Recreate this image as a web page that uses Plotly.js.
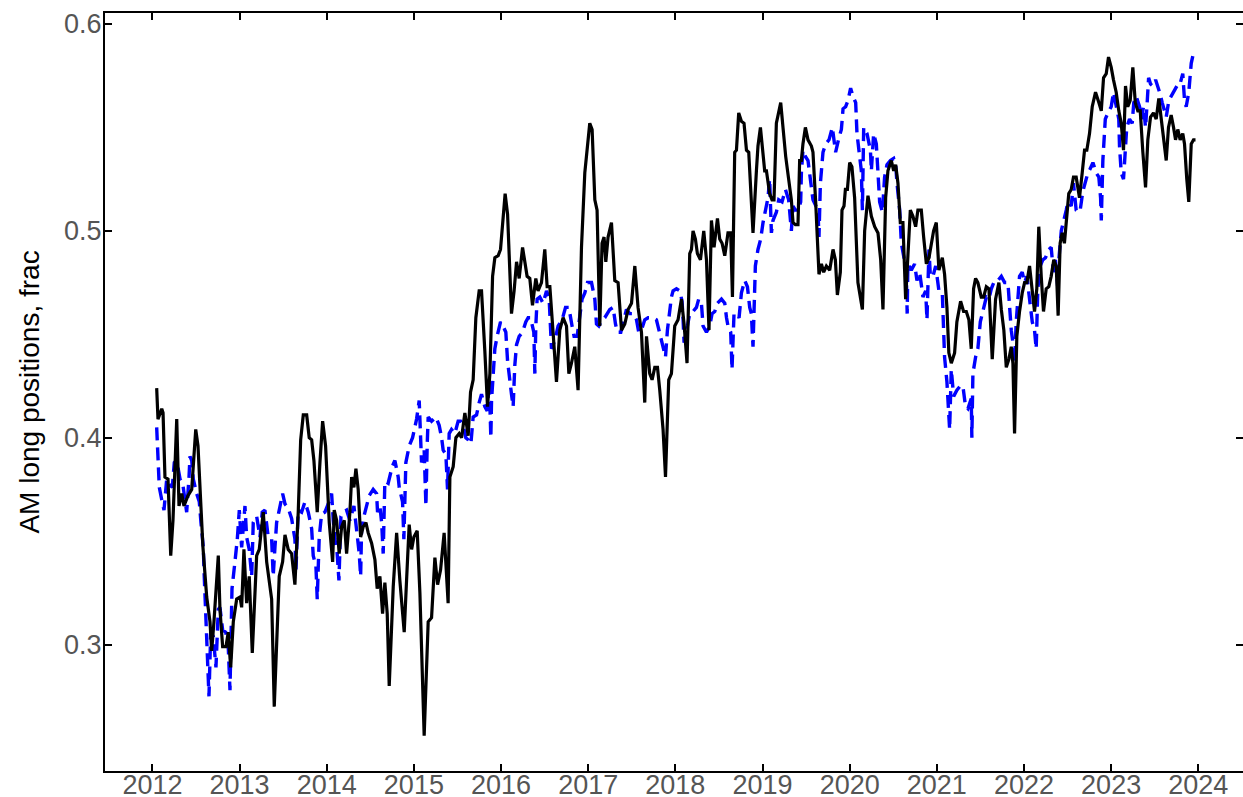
<!DOCTYPE html>
<html>
<head>
<meta charset="utf-8">
<script src="https://cdn.plot.ly/plotly-3.0.1.min.js"></script>
<style>html,body{margin:0;padding:0;background:#fff;}#chart{width:1243px;height:797px;}</style>
</head>
<body>
<div id="chart"></div>
<script>
// ---- Data (decimal years, fraction of AM long positions) ----
const yearTicks = [2012,2013,2014,2015,2016,2017,2018,2019,2020,2021,2022,2023,2024];
const yearLabels = ["2012","2013","2014","2015","2016","2017","2018","2019","2020","2021","2022","2023","2024"];
const yTickVals = [0.3,0.4,0.5,0.6];
const yTickLabels = ["0.3","0.4","0.5","0.6"];

const actualT = [
2012.049,2012.064,2012.107,2012.122,2012.144,2012.179,2012.210,2012.236,2012.279,2012.305,
2012.336,2012.362,2012.408,2012.451,2012.497,2012.523,2012.554,2012.580,2012.623,2012.661,
2012.680,2012.706,2012.756,2012.775,2012.806,2012.844,2012.870,2012.898,2012.928,2012.967,
2013.005,2013.024,2013.050,2013.081,2013.111,2013.146,2013.196,2013.226,2013.272,2013.311,
2013.368,2013.398,2013.455,2013.494,2013.521,2013.558,2013.597,2013.635,2013.673,2013.701,
2013.731,2013.770,2013.799,2013.827,2013.853,2013.891,2013.922,2013.953,2013.987,2014.029,
2014.068,2014.086,2014.114,2014.143,2014.171,2014.201,2014.228,2014.266,2014.286,2014.312,
2014.335,2014.361,2014.389,2014.419,2014.450,2014.476,2014.515,2014.553,2014.579,2014.610,
2014.641,2014.667,2014.694,2014.717,2014.763,2014.802,2014.839,2014.889,2014.916,2014.946,
2014.974,2015.000,2015.038,2015.069,2015.118,2015.164,2015.203,2015.241,2015.272,2015.306,
2015.347,2015.393,2015.413,2015.451,2015.482,2015.520,2015.547,2015.585,2015.623,2015.650,
2015.680,2015.711,2015.749,2015.776,2015.814,2015.845,2015.872,2015.903,2015.929,2015.967,
2015.994,2016.024,2016.047,2016.075,2016.101,2016.120,2016.150,2016.178,2016.208,2016.247,
2016.273,2016.299,2016.330,2016.361,2016.399,2016.425,2016.464,2016.502,2016.529,2016.560,
2016.597,2016.636,2016.674,2016.712,2016.751,2016.778,2016.808,2016.846,2016.884,2016.923,
2016.961,2016.992,2017.018,2017.045,2017.076,2017.102,2017.133,2017.159,2017.182,2017.202,
2017.228,2017.267,2017.305,2017.343,2017.382,2017.420,2017.458,2017.497,2017.535,2017.572,
2017.611,2017.649,2017.669,2017.706,2017.733,2017.764,2017.795,2017.821,2017.859,2017.887,
2017.924,2017.955,2017.993,2018.031,2018.070,2018.100,2018.134,2018.165,2018.185,2018.203,
2018.230,2018.253,2018.288,2018.326,2018.357,2018.386,2018.414,2018.444,2018.483,2018.509,
2018.536,2018.567,2018.604,2018.635,2018.655,2018.681,2018.701,2018.727,2018.758,2018.788,
2018.816,2018.842,2018.873,2018.891,2018.930,2018.948,2018.976,2018.994,2019.025,2019.045,
2019.082,2019.109,2019.132,2019.159,2019.186,2019.209,2019.235,2019.266,2019.300,2019.331,
2019.350,2019.377,2019.407,2019.426,2019.446,2019.464,2019.492,2019.522,2019.561,2019.579,
2019.610,2019.636,2019.648,2019.676,2019.702,2019.733,2019.771,2019.809,2019.836,2019.859,
2019.893,2019.912,2019.935,2019.951,2019.974,2020.000,2020.026,2020.057,2020.095,2020.146,
2020.172,2020.210,2020.249,2020.287,2020.325,2020.356,2020.382,2020.413,2020.439,2020.478,
2020.505,2020.528,2020.554,2020.581,2020.611,2020.642,2020.668,2020.696,2020.726,2020.757,
2020.783,2020.822,2020.849,2020.880,2020.910,2020.937,2020.963,2020.994,2021.024,2021.063,
2021.089,2021.116,2021.138,2021.166,2021.204,2021.230,2021.273,2021.307,2021.338,2021.368,
2021.395,2021.422,2021.445,2021.471,2021.510,2021.537,2021.568,2021.598,2021.636,2021.674,
2021.712,2021.740,2021.769,2021.797,2021.827,2021.854,2021.873,2021.892,2021.918,2021.949,
2021.980,2022.007,2022.033,2022.064,2022.095,2022.121,2022.147,2022.170,2022.198,2022.224,
2022.255,2022.285,2022.312,2022.342,2022.370,2022.392,2022.415,2022.438,2022.464,2022.491,
2022.514,2022.542,2022.568,2022.599,2022.637,2022.668,2022.695,2022.721,2022.752,2022.783,
2022.821,2022.859,2022.887,2022.913,2022.944,2022.970,2023.001,2023.027,2023.058,2023.088,
2023.116,2023.142,2023.165,2023.191,2023.219,2023.249,2023.277,2023.306,2023.334,2023.364,
2023.395,2023.421,2023.452,2023.486,2023.517,2023.547,2023.574,2023.601,2023.632,2023.658,
2023.689,2023.716,2023.739,2023.765,2023.792,2023.822,2023.842,2023.868,2023.891,2023.919,
2023.945,2023.968];
const actualV = [
0.424,0.409,0.414,0.412,0.381,0.380,0.343,0.360,0.409,0.367,
0.373,0.367,0.372,0.375,0.404,0.396,0.369,0.347,0.323,0.311,
0.297,0.311,0.343,0.317,0.299,0.299,0.306,0.289,0.311,0.322,
0.323,0.318,0.346,0.320,0.333,0.296,0.343,0.346,0.364,0.340,
0.322,0.270,0.333,0.340,0.353,0.346,0.344,0.329,0.364,0.399,
0.411,0.411,0.400,0.399,0.389,0.364,0.388,0.408,0.396,0.359,
0.340,0.365,0.360,0.344,0.357,0.360,0.344,0.364,0.381,0.376,
0.385,0.375,0.352,0.357,0.359,0.354,0.349,0.341,0.327,0.333,
0.315,0.330,0.315,0.280,0.328,0.354,0.331,0.306,0.331,0.358,
0.346,0.352,0.355,0.325,0.256,0.311,0.313,0.342,0.329,0.336,
0.354,0.320,0.381,0.386,0.400,0.402,0.400,0.412,0.401,0.422,
0.428,0.458,0.471,0.471,0.442,0.415,0.431,0.478,0.487,0.488,
0.491,0.506,0.518,0.508,0.476,0.460,0.471,0.485,0.477,0.492,
0.485,0.478,0.477,0.464,0.477,0.471,0.475,0.491,0.473,0.473,
0.451,0.427,0.452,0.458,0.454,0.431,0.436,0.444,0.423,0.492,
0.528,0.542,0.552,0.549,0.515,0.510,0.454,0.494,0.497,0.485,
0.497,0.504,0.476,0.475,0.452,0.455,0.462,0.465,0.483,0.463,
0.451,0.417,0.449,0.431,0.428,0.434,0.434,0.423,0.404,0.381,
0.428,0.431,0.454,0.457,0.467,0.455,0.436,0.489,0.491,0.500,
0.496,0.489,0.486,0.500,0.486,0.452,0.505,0.492,0.506,0.496,
0.494,0.488,0.499,0.499,0.468,0.538,0.539,0.557,0.553,0.552,
0.539,0.538,0.512,0.499,0.529,0.541,0.550,0.541,0.529,0.529,
0.518,0.515,0.515,0.552,0.557,0.562,0.550,0.536,0.525,0.515,
0.504,0.503,0.503,0.534,0.534,0.542,0.550,0.544,0.541,0.538,
0.514,0.494,0.479,0.484,0.480,0.483,0.481,0.491,0.486,0.469,
0.480,0.510,0.512,0.520,0.520,0.533,0.531,0.516,0.475,0.462,
0.500,0.517,0.507,0.502,0.499,0.486,0.462,0.516,0.529,0.534,
0.529,0.532,0.523,0.504,0.504,0.467,0.487,0.510,0.507,0.502,
0.510,0.510,0.497,0.484,0.487,0.494,0.500,0.504,0.481,0.487,
0.479,0.463,0.441,0.436,0.441,0.456,0.466,0.461,0.461,0.457,
0.443,0.472,0.477,0.475,0.468,0.468,0.473,0.472,0.438,0.467,
0.475,0.462,0.452,0.434,0.438,0.444,0.436,0.402,0.449,0.461,
0.470,0.475,0.475,0.483,0.470,0.461,0.472,0.502,0.478,0.461,
0.472,0.473,0.478,0.486,0.483,0.459,0.494,0.499,0.494,0.507,
0.518,0.520,0.526,0.526,0.516,0.528,0.539,0.539,0.547,0.560,
0.567,0.562,0.558,0.574,0.576,0.584,0.579,0.573,0.567,0.558,
0.552,0.539,0.570,0.560,0.563,0.579,0.562,0.558,0.558,0.538,
0.521,0.544,0.555,0.557,0.554,0.564,0.555,0.547,0.534,0.550,
0.556,0.550,0.544,0.549,0.544,0.547,0.542,0.525,0.514,0.542,
0.544,0.544];

const modelT = [
2012.049,2012.068,2012.079,2012.107,2012.133,2012.164,2012.202,2012.228,2012.251,2012.279,
2012.297,2012.317,2012.347,2012.374,2012.393,2012.420,2012.431,2012.451,2012.469,2012.508,
2012.538,2012.557,2012.584,2012.592,2012.607,2012.623,2012.632,2012.641,2012.649,2012.669,
2012.698,2012.729,2012.756,2012.775,2012.806,2012.841,2012.870,2012.890,2012.913,2012.947,
2012.974,2012.997,2013.024,2013.062,2013.081,2013.111,2013.139,2013.157,2013.196,2013.234,
2013.260,2013.291,2013.329,2013.368,2013.386,2013.406,2013.425,2013.455,2013.494,2013.521,
2013.558,2013.597,2013.635,2013.647,2013.673,2013.712,2013.750,2013.788,2013.827,2013.845,
2013.876,2013.891,2013.914,2013.941,2013.979,2014.017,2014.056,2014.075,2014.094,2014.120,
2014.140,2014.163,2014.189,2014.228,2014.266,2014.312,2014.343,2014.373,2014.389,2014.400,
2014.427,2014.464,2014.487,2014.533,2014.572,2014.583,2014.610,2014.630,2014.648,2014.667,
2014.705,2014.751,2014.782,2014.820,2014.832,2014.870,2014.885,2014.908,2014.946,2014.985,
2015.031,2015.061,2015.077,2015.088,2015.118,2015.126,2015.138,2015.153,2015.164,2015.203,
2015.252,2015.290,2015.318,2015.336,2015.367,2015.386,2015.405,2015.432,2015.470,2015.508,
2015.536,2015.565,2015.596,2015.623,2015.654,2015.680,2015.719,2015.749,2015.776,2015.814,
2015.841,2015.864,2015.883,2015.891,2015.909,2015.929,2015.955,2015.994,2016.024,2016.055,
2016.075,2016.101,2016.120,2016.139,2016.158,2016.178,2016.208,2016.247,2016.284,2016.311,
2016.338,2016.376,2016.388,2016.399,2016.414,2016.445,2016.483,2016.522,2016.552,2016.579,
2016.617,2016.655,2016.701,2016.740,2016.778,2016.815,2016.838,2016.873,2016.904,2016.930,
2016.961,2016.992,2017.038,2017.076,2017.095,2017.122,2017.159,2017.190,2017.248,2017.286,
2017.313,2017.336,2017.374,2017.412,2017.439,2017.477,2017.515,2017.554,2017.580,2017.611,
2017.649,2017.687,2017.744,2017.783,2017.821,2017.859,2017.887,2017.909,2017.924,2017.955,
2017.974,2018.013,2018.051,2018.077,2018.089,2018.100,2018.139,2018.165,2018.203,2018.242,
2018.268,2018.299,2018.318,2018.357,2018.395,2018.421,2018.452,2018.483,2018.529,2018.567,
2018.587,2018.604,2018.635,2018.650,2018.673,2018.701,2018.731,2018.758,2018.796,2018.827,
2018.853,2018.872,2018.891,2018.911,2018.918,2018.948,2018.979,2019.006,2019.033,2019.063,
2019.082,2019.102,2019.120,2019.159,2019.186,2019.224,2019.263,2019.300,2019.331,2019.350,
2019.377,2019.407,2019.438,2019.446,2019.464,2019.492,2019.522,2019.553,2019.579,2019.636,
2019.648,2019.664,2019.694,2019.725,2019.763,2019.801,2019.839,2019.877,2019.905,2019.924,
2019.954,2019.981,2020.011,2020.038,2020.069,2020.084,2020.107,2020.134,2020.146,2020.161,
2020.199,2020.238,2020.249,2020.275,2020.306,2020.325,2020.344,2020.375,2020.401,2020.428,
2020.467,2020.505,2020.528,2020.543,2020.574,2020.593,2020.623,2020.650,2020.660,2020.668,
2020.707,2020.745,2020.772,2020.803,2020.841,2020.872,2020.887,2020.910,2020.926,2020.956,
2020.987,2021.024,2021.063,2021.078,2021.089,2021.116,2021.138,2021.147,2021.166,2021.193,
2021.230,2021.269,2021.299,2021.330,2021.357,2021.395,2021.402,2021.414,2021.445,2021.471,
2021.499,2021.529,2021.568,2021.598,2021.625,2021.663,2021.701,2021.740,2021.778,2021.816,
2021.835,2021.854,2021.873,2021.892,2021.911,2021.930,2021.949,2021.980,2022.007,2022.033,
2022.064,2022.095,2022.121,2022.140,2022.159,2022.186,2022.216,2022.247,2022.285,2022.312,
2022.338,2022.361,2022.389,2022.400,2022.428,2022.454,2022.485,2022.503,2022.542,2022.568,
2022.599,2022.629,2022.645,2022.675,2022.706,2022.733,2022.760,2022.791,2022.829,2022.859,
2022.879,2022.887,2022.905,2022.917,2022.933,2022.963,2023.001,2023.027,2023.058,2023.088,
2023.096,2023.116,2023.142,2023.161,2023.179,2023.211,2023.242,2023.260,2023.288,2023.326,
2023.346,2023.372,2023.395,2023.415,2023.430,2023.452,2023.479,2023.510,2023.537,2023.556,
2023.586,2023.612,2023.632,2023.662,2023.689,2023.727,2023.754,2023.785,2023.822,2023.842,
2023.861,2023.891,2023.907,2023.919,2023.945,2023.956];
const modelV = [
0.405,0.389,0.376,0.370,0.365,0.380,0.377,0.376,0.388,0.389,
0.384,0.380,0.378,0.370,0.364,0.381,0.391,0.389,0.380,0.373,
0.369,0.359,0.347,0.336,0.320,0.307,0.301,0.288,0.275,0.306,
0.304,0.289,0.317,0.318,0.307,0.306,0.299,0.278,0.327,0.340,
0.351,0.365,0.347,0.367,0.352,0.346,0.333,0.359,0.362,0.352,
0.364,0.365,0.352,0.351,0.333,0.347,0.359,0.365,0.373,0.368,
0.366,0.361,0.351,0.336,0.365,0.364,0.369,0.364,0.356,0.343,
0.338,0.322,0.352,0.363,0.364,0.368,0.373,0.360,0.351,0.344,
0.331,0.362,0.364,0.365,0.360,0.367,0.356,0.344,0.333,0.356,
0.362,0.369,0.372,0.375,0.373,0.364,0.367,0.359,0.344,0.379,
0.378,0.386,0.389,0.381,0.376,0.369,0.351,0.388,0.396,0.400,
0.409,0.418,0.404,0.388,0.394,0.379,0.367,0.397,0.410,0.408,
0.410,0.406,0.400,0.394,0.392,0.375,0.402,0.404,0.402,0.408,
0.408,0.406,0.400,0.399,0.397,0.410,0.411,0.417,0.421,0.415,
0.413,0.428,0.400,0.418,0.433,0.443,0.449,0.456,0.454,0.451,
0.437,0.426,0.421,0.415,0.435,0.445,0.449,0.451,0.456,0.458,
0.458,0.451,0.431,0.454,0.467,0.468,0.465,0.471,0.467,0.443,
0.447,0.454,0.457,0.463,0.463,0.454,0.449,0.449,0.460,0.467,
0.470,0.475,0.475,0.467,0.455,0.454,0.457,0.458,0.462,0.463,
0.455,0.451,0.451,0.457,0.462,0.460,0.460,0.457,0.451,0.452,
0.457,0.458,0.458,0.457,0.451,0.444,0.439,0.452,0.457,0.468,
0.471,0.472,0.471,0.466,0.457,0.446,0.454,0.460,0.461,0.463,
0.467,0.465,0.454,0.451,0.454,0.460,0.461,0.465,0.467,0.465,
0.458,0.454,0.451,0.433,0.460,0.460,0.458,0.470,0.476,0.473,
0.463,0.460,0.444,0.468,0.483,0.491,0.496,0.504,0.510,0.516,
0.525,0.499,0.505,0.509,0.515,0.514,0.520,0.515,0.500,0.512,
0.510,0.510,0.514,0.528,0.539,0.536,0.534,0.525,0.515,0.510,
0.497,0.523,0.538,0.542,0.544,0.550,0.538,0.545,0.549,0.559,
0.560,0.563,0.569,0.565,0.562,0.547,0.539,0.529,0.510,0.550,
0.547,0.539,0.529,0.547,0.542,0.526,0.514,0.509,0.526,0.532,
0.534,0.535,0.532,0.523,0.510,0.494,0.487,0.478,0.460,0.484,
0.481,0.484,0.476,0.480,0.468,0.471,0.457,0.491,0.478,0.478,
0.483,0.471,0.470,0.452,0.439,0.427,0.410,0.404,0.433,0.420,
0.423,0.425,0.425,0.415,0.414,0.419,0.400,0.431,0.439,0.443,
0.456,0.461,0.468,0.467,0.472,0.476,0.476,0.478,0.475,0.475,
0.462,0.452,0.446,0.436,0.456,0.465,0.478,0.480,0.475,0.478,
0.468,0.456,0.452,0.443,0.472,0.483,0.486,0.487,0.491,0.492,
0.480,0.486,0.472,0.486,0.500,0.504,0.510,0.514,0.512,0.523,
0.510,0.509,0.510,0.519,0.524,0.528,0.530,0.533,0.528,0.526,
0.516,0.505,0.534,0.547,0.554,0.557,0.560,0.567,0.560,0.554,
0.541,0.528,0.525,0.536,0.550,0.554,0.552,0.562,0.565,0.560,
0.554,0.560,0.550,0.563,0.574,0.571,0.570,0.573,0.570,0.567,
0.562,0.558,0.555,0.563,0.565,0.568,0.570,0.570,0.576,0.563,
0.560,0.567,0.574,0.581,0.586,0.587];

// ---- Chart ----
const tickFont = {family: 'Arial, "Liberation Sans", sans-serif', size: 27, color: '#555555'};

const traces = [
  {x: modelT, y: modelV, type: 'scatter', mode: 'lines',
   line: {color: '#0000ff', width: 3.4, dash: '13px,7px'}, hoverinfo: 'skip'},
  {x: actualT, y: actualV, type: 'scatter', mode: 'lines',
   line: {color: '#000000', width: 3.2}, hoverinfo: 'skip'},
  {x: [], y: [], yaxis: 'y2', type: 'scatter', mode: 'lines', showlegend: false, hoverinfo: 'skip'}
];

const layout = {
  width: 1243, height: 797,
  margin: {l: 105, r: 0, t: 13, b: 26, pad: 0},
  paper_bgcolor: '#ffffff', plot_bgcolor: '#ffffff',
  showlegend: false,
  xaxis: {
    range: [2011.456, 2024.513], tickvals: yearTicks, ticktext: yearLabels,
    ticks: 'inside', ticklen: 7, tickwidth: 2, tickcolor: '#000',
    showline: true, linecolor: '#000', linewidth: 2, mirror: 'ticks',
    showgrid: false, zeroline: false, tickfont: tickFont, automargin: false,
    ticklabelstandoff: -11
  },
  yaxis: {
    range: [0.2389, 0.6053], tickvals: yTickVals, ticktext: yTickLabels,
    ticks: 'inside', ticklen: 7, tickwidth: 2, tickcolor: '#000',
    showline: true, linecolor: '#000', linewidth: 2, mirror: false,
    showgrid: false, zeroline: false, tickfont: tickFont, automargin: false,
    ticklabelstandoff: -4,
    title: {text: 'AM long positions, frac', font: {family: 'Arial, "Liberation Sans", sans-serif', size: 28, color: '#000'}, standoff: 16}
  },
  yaxis2: {
    overlaying: 'y', side: 'right', anchor: 'x',
    range: [0.2389, 0.6053], tickvals: yTickVals, showticklabels: false,
    ticks: 'inside', ticklen: 7, tickwidth: 2, tickcolor: '#000',
    showline: false, showgrid: false, zeroline: false, automargin: false
  }
};

Plotly.newPlot('chart', traces, layout, {displayModeBar: false, staticPlot: true});
</script>
</body>
</html>
